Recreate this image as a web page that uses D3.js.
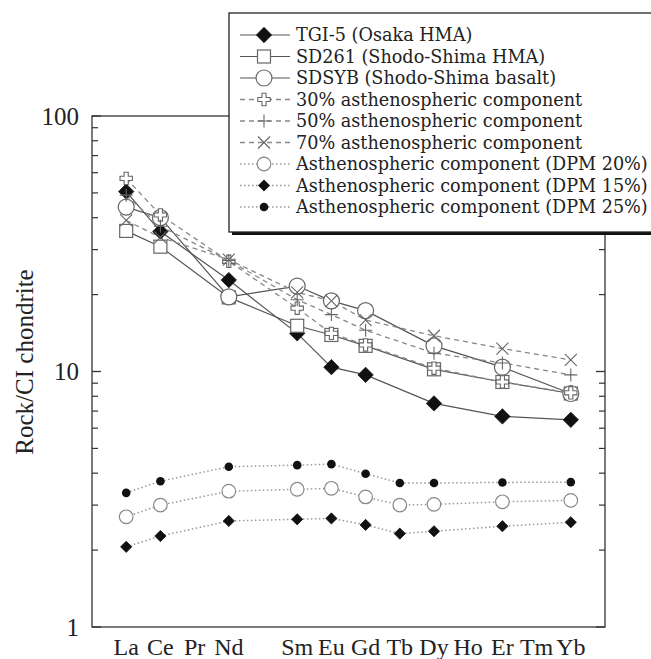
<!DOCTYPE html>
<html><head><meta charset="utf-8">
<script src="https://cdn.jsdelivr.net/npm/d3@7"></script>
<style>html,body{margin:0;padding:0;background:#fff;}svg{display:block;}</style>
</head><body>
<svg id="chart" width="651" height="659"></svg>
<script>
// ---- data ----
const elements = ["La","Ce","Pr","Nd","Pm","Sm","Eu","Gd","Tb","Dy","Ho","Er","Tm","Yb"];
const tickLabels = ["La","Ce","Pr","Nd","","Sm","Eu","Gd","Tb","Dy","Ho","Er","Tm","Yb"];
const yTickValues = [1, 10, 100];
const yTickLabels = ["1", "10", "100"];

const sampleElements = ["La","Ce","Nd","Sm","Eu","Gd","Dy","Er","Yb"];
const tgi5  = [50.6, 35.3, 22.8, 14.1, 10.4, 9.7, 7.5, 6.67, 6.47];
const sd261 = [35.5, 30.8, 19.5, 15.1, 13.9, 12.6, 10.2, 9.1, 8.2];
const sdsyb = [44, 40, 19.6, 21.6, 18.9, 17.3, 12.6, 10.4, 8.2];
const mix30 = [57, 41, 27, 17.7, 14.1, 12.7, 10.3, 9.1, 8.25];
const mix50 = [49, 37, 27.2, 19.1, 16.7, 14.5, 11.8, 10.8, 9.7];
const mix70 = [39, 33.5, 27.4, 20.4, 18.9, 15.9, 13.8, 12.3, 11.1];

const dpmElements = ["La","Ce","Nd","Sm","Eu","Gd","Tb","Dy","Er","Yb"];
const dpm20 = [2.70, 3.00, 3.40, 3.46, 3.49, 3.23, 3.00, 3.02, 3.09, 3.13];
const dpm15 = [2.06, 2.27, 2.60, 2.64, 2.66, 2.51, 2.32, 2.37, 2.48, 2.57];
const dpm25 = [3.35, 3.72, 4.24, 4.30, 4.34, 3.98, 3.66, 3.66, 3.68, 3.69];

const seriesNames = [
  "TGI-5 (Osaka HMA)",
  "SD261 (Shodo-Shima HMA)",
  "SDSYB (Shodo-Shima basalt)",
  "30% asthenospheric component",
  "50% asthenospheric component",
  "70% asthenospheric component",
  "Asthenospheric component (DPM 20%)",
  "Asthenospheric component (DPM 15%)",
  "Asthenospheric component (DPM 25%)"
];

// ---- layout ----
const svg = d3.select("#chart");
const L = 92, R = 605, T = 116, B = 627;
const x = d3.scaleLinear().domain([-1, elements.length]).range([L, R]);
const y = d3.scaleLog().domain([1, 100]).range([B, T]);
const xi = el => x(elements.indexOf(el));

const serif = "'Liberation Serif','Times New Roman',serif";
const legendFont = "'DejaVu Serif',serif";

// frame
svg.append("rect").attr("x", L).attr("y", T).attr("width", R - L).attr("height", B - T)
  .attr("fill", "none").attr("stroke", "#333").attr("stroke-width", 1.3);

// y axes (ticks inward)
const minorTicks = [];
[1, 10].forEach(d => { for (let k = 2; k <= 9; k++) minorTicks.push(d * k); });
const axisG = svg.append("g");
axisG.selectAll(".mjL").data(yTickValues).join("line")
  .attr("x1", L).attr("x2", L + 9).attr("y1", d => y(d)).attr("y2", d => y(d))
  .attr("stroke", "#333").attr("stroke-width", 1.3);
axisG.selectAll(".mnL").data(minorTicks).join("line")
  .attr("x1", L).attr("x2", L + 6).attr("y1", d => y(d)).attr("y2", d => y(d))
  .attr("stroke", "#333").attr("stroke-width", 1.2);
axisG.selectAll(".mjR").data(yTickValues).join("line")
  .attr("x1", R).attr("x2", R - 9).attr("y1", d => y(d)).attr("y2", d => y(d))
  .attr("stroke", "#333").attr("stroke-width", 1.3);
axisG.selectAll(".mnR").data(minorTicks).join("line")
  .attr("x1", R).attr("x2", R - 6).attr("y1", d => y(d)).attr("y2", d => y(d))
  .attr("stroke", "#333").attr("stroke-width", 1.2);

// y tick labels
svg.append("g").selectAll("text").data(yTickValues).join("text")
  .attr("x", 79).attr("y", d => y(d)).attr("dy", "0.35em")
  .attr("text-anchor", "end").attr("font-family", serif).attr("font-size", 25)
  .attr("fill", "#222").text((d, i) => yTickLabels[i]);

// y label
svg.append("text").attr("transform", "translate(33,362) rotate(-90)")
  .attr("text-anchor", "middle").attr("font-family", serif).attr("font-size", 25)
  .attr("fill", "#222").text("Rock/CI chondrite");

// x labels
svg.append("g").selectAll("text").data(tickLabels).join("text")
  .attr("x", (d, i) => x(i)).attr("y", 655)
  .attr("text-anchor", "middle").attr("font-family", serif).attr("font-size", 24)
  .attr("fill", "#222").text(d => d);

// ---- symbols ----
function drawMarker(g, type, cx, cy) {
  const gray = "#666";
  switch (type) {
    case "diamond":
      g.append("path").attr("d", d3.symbol(d3.symbolDiamond2, 150)())
        .attr("transform", `translate(${cx},${cy})`).attr("fill", "#111").attr("stroke", "#111").attr("stroke-width", 0.8);
      break;
    case "sdiamond":
      g.append("path").attr("d", d3.symbol(d3.symbolDiamond2, 80)())
        .attr("transform", `translate(${cx},${cy})`).attr("fill", "#111").attr("stroke", "#111").attr("stroke-width", 0.8);
      break;
    case "square":
      g.append("rect").attr("x", cx - 6.5).attr("y", cy - 6.5).attr("width", 13).attr("height", 13)
        .attr("fill", "#fff").attr("stroke", gray).attr("stroke-width", 1.2);
      break;
    case "circle":
      g.append("circle").attr("cx", cx).attr("cy", cy).attr("r", 8)
        .attr("fill", "#fff").attr("stroke", gray).attr("stroke-width", 1.2);
      break;
    case "ocircle":
      g.append("circle").attr("cx", cx).attr("cy", cy).attr("r", 6.8)
        .attr("fill", "#fff").attr("stroke", "#888").attr("stroke-width", 1.2);
      break;
    case "dot":
      g.append("circle").attr("cx", cx).attr("cy", cy).attr("r", 4.3).attr("fill", "#111");
      break;
    case "ocross":
      g.append("path").attr("d", d3.symbol(d3.symbolCross, 85)())
        .attr("transform", `translate(${cx},${cy})`).attr("fill", "#fff").attr("stroke", gray).attr("stroke-width", 1.1);
      break;
    case "plus":
      g.append("path").attr("d", `M${cx - 6.5},${cy}H${cx + 6.5}M${cx},${cy - 6.5}V${cy + 6.5}`)
        .attr("stroke", gray).attr("stroke-width", 1.1).attr("fill", "none");
      break;
    case "x":
      g.append("path").attr("d", `M${cx - 6},${cy - 6}L${cx + 6},${cy + 6}M${cx - 6},${cy + 6}L${cx + 6},${cy - 6}`)
        .attr("stroke", gray).attr("stroke-width", 1.1).attr("fill", "none");
      break;
  }
}

const styles = {
  solid:  { stroke: "#555", width: 1.2, dash: null },
  dashed: { stroke: "#888", width: 1.3, dash: "5,4" },
  dotted: { stroke: "#999", width: 1.5, dash: "1.5,2.5" }
};

const series = [
  { name: seriesNames[0], els: sampleElements, vals: tgi5,  marker: "diamond", style: "solid" },
  { name: seriesNames[1], els: sampleElements, vals: sd261, marker: "square",  style: "solid" },
  { name: seriesNames[2], els: sampleElements, vals: sdsyb, marker: "circle",  style: "solid" },
  { name: seriesNames[3], els: sampleElements, vals: mix30, marker: "ocross",  style: "dashed" },
  { name: seriesNames[4], els: sampleElements, vals: mix50, marker: "plus",    style: "dashed" },
  { name: seriesNames[5], els: sampleElements, vals: mix70, marker: "x",       style: "dashed" },
  { name: seriesNames[6], els: dpmElements,    vals: dpm20, marker: "ocircle", style: "dotted" },
  { name: seriesNames[7], els: dpmElements,    vals: dpm15, marker: "sdiamond",style: "dotted" },
  { name: seriesNames[8], els: dpmElements,    vals: dpm25, marker: "dot",     style: "dotted" }
];

const line = d3.line().x(d => xi(d.el)).y(d => y(d.v));
const linesG = svg.append("g");
series.forEach(s => {
  const pts = s.els.map((el, i) => ({ el, v: s.vals[i] }));
  const st = styles[s.style];
  linesG.append("path").attr("d", line(pts)).attr("fill", "none")
    .attr("stroke", st.stroke).attr("stroke-width", st.width)
    .attr("stroke-dasharray", st.dash);
});
const markG = svg.append("g");
const drawOrder = [6, 7, 8, 0, 1, 2, 3, 4, 5];
drawOrder.forEach(k => {
  const s = series[k];
  s.els.forEach((el, i) => drawMarker(markG, s.marker, xi(el), y(s.vals[i])));
});

// ---- legend ----
const lg = svg.append("g");
const bx = 229, by = 13, bw = 440, bh = 219;
lg.append("rect").attr("x", bx + 3).attr("y", by + 3).attr("width", bw).attr("height", bh).attr("fill", "#111");
lg.append("rect").attr("x", bx).attr("y", by).attr("width", bw).attr("height", bh)
  .attr("fill", "#fff").attr("stroke", "#222").attr("stroke-width", 1.3);
const rowY = i => 35 + i * 21.5;
series.forEach((s, i) => {
  const st = styles[s.style];
  lg.append("line").attr("x1", 240).attr("x2", 290).attr("y1", rowY(i)).attr("y2", rowY(i))
    .attr("stroke", st.stroke).attr("stroke-width", st.width).attr("stroke-dasharray", st.dash);
  drawMarker(lg, s.marker, 264, rowY(i));
});
const texts = lg.selectAll(".lt").data(seriesNames).join("text")
  .attr("x", 296).attr("y", (d, i) => rowY(i)).attr("dy", "0.36em")
  .attr("font-family", legendFont).attr("font-size", 18).attr("fill", "#222").text(d => d);
// fit longest label to width of reference
let maxW = 0;
texts.each(function() { maxW = Math.max(maxW, this.getComputedTextLength()); });
if (maxW > 0) texts.attr("font-size", 18 * 352 / maxW);
</script>
</body></html>
